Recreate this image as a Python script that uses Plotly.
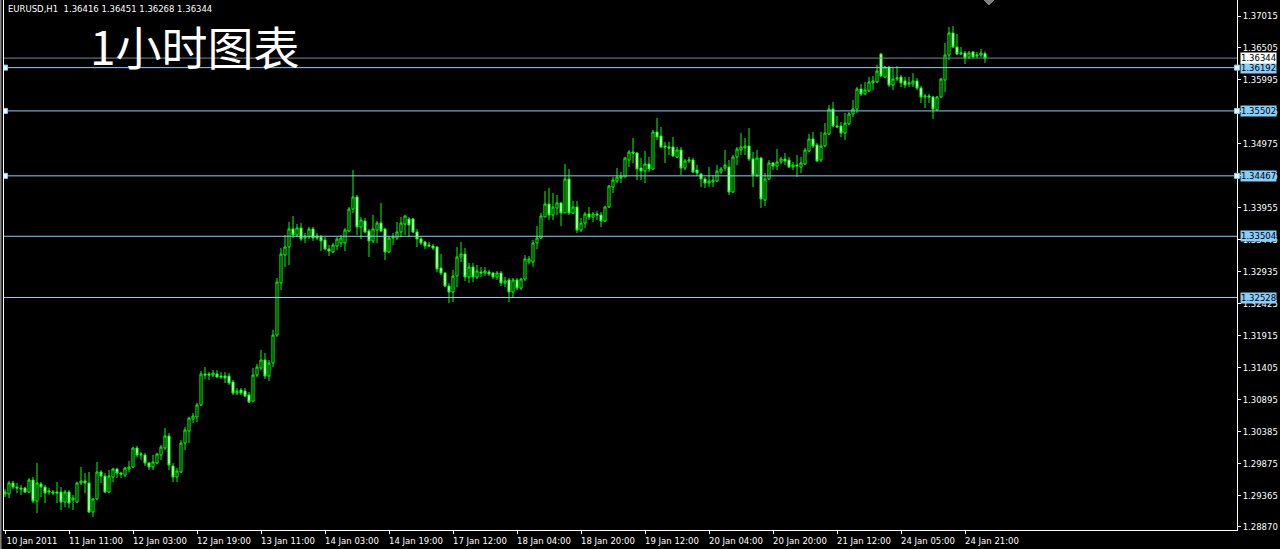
import plotly.graph_objects as go

symbol = "EURUSD,H1"
title_text = "1小时图表"

# x-axis labels, one every 16 hourly bars
time_labels = ["10 Jan 2011", "11 Jan 11:00", "12 Jan 03:00", "12 Jan 19:00", "13 Jan 11:00",
               "14 Jan 03:00", "14 Jan 19:00", "17 Jan 12:00", "18 Jan 04:00", "18 Jan 20:00",
               "19 Jan 12:00", "20 Jan 04:00", "20 Jan 20:00", "21 Jan 12:00", "24 Jan 05:00",
               "24 Jan 21:00"]
label_step = 16

price_ticks = [1.37015, 1.36505, 1.35995, 1.35485, 1.34975, 1.34465, 1.33955, 1.33445,
               1.32935, 1.32425, 1.31915, 1.31405, 1.30895, 1.30385, 1.29875, 1.29365, 1.28870]
level_lines = [1.36192, 1.35502, 1.34467, 1.33504, 1.32528]
selected_levels = [1.36192, 1.35502, 1.34467]
bid_price = 1.36344
price_range = [1.28822, 1.37270]

opens = [
    1.29396, 1.29396, 1.29571, 1.29507, 1.29491, 1.29491, 1.29427, 1.29619, 1.29284, 1.29555,
    1.29507, 1.29427, 1.29427, 1.29427, 1.29427, 1.29268, 1.29427, 1.29300, 1.29268, 1.29571,
    1.29603, 1.29571, 1.29109, 1.29316, 1.29746, 1.29682, 1.29427, 1.29666, 1.29794, 1.29730,
    1.29698, 1.29794, 1.29826, 1.30129, 1.30017, 1.30017, 1.29890, 1.29826, 1.29890, 1.30017,
    1.30129, 1.30320, 1.29842, 1.29666, 1.29746, 1.30208, 1.30400, 1.30591, 1.30623, 1.30814,
    1.31308, 1.31308, 1.31292, 1.31308, 1.31276, 1.31276, 1.31276, 1.31181, 1.31005, 1.31053,
    1.31037, 1.30974, 1.30878, 1.31292, 1.31404, 1.31532, 1.31276, 1.31484, 1.31930, 1.32759,
    1.33205, 1.33333, 1.33620, 1.33524, 1.33636, 1.33476, 1.33492, 1.33620, 1.33508, 1.33492,
    1.33444, 1.33301, 1.33253, 1.33349, 1.33397, 1.33397, 1.33588, 1.33938, 1.34130, 1.33652,
    1.33747, 1.33588, 1.33429, 1.33604, 1.33715, 1.33620, 1.33253, 1.33476, 1.33476, 1.33572,
    1.33699, 1.33779, 1.33779, 1.33572, 1.33460, 1.33413, 1.33365, 1.33349, 1.33333, 1.32998,
    1.32918, 1.32711, 1.32615, 1.32870, 1.33173, 1.33221, 1.32855, 1.33014, 1.32855, 1.32934,
    1.32918, 1.32934, 1.32918, 1.32855, 1.32918, 1.32759, 1.32807, 1.32615, 1.32807, 1.32679,
    1.32823, 1.33094, 1.33094, 1.33397, 1.33476, 1.33811, 1.34018, 1.33843, 1.33954, 1.34034,
    1.33875, 1.34416, 1.33875, 1.33970, 1.33604, 1.33715, 1.33859, 1.33811, 1.33859, 1.33843,
    1.33747, 1.33970, 1.34289, 1.34385, 1.34432, 1.34448, 1.34720, 1.34847, 1.34831, 1.34592,
    1.34544, 1.34656, 1.34576, 1.35166, 1.35102, 1.34943, 1.34927, 1.34927, 1.34767, 1.34879,
    1.34592, 1.34704, 1.34720, 1.34560, 1.34496, 1.34416, 1.34353, 1.34369, 1.34385, 1.34528,
    1.34592, 1.34608, 1.34209, 1.34767, 1.34879, 1.34911, 1.34943, 1.34736, 1.34480, 1.34751,
    1.34082, 1.34416, 1.34672, 1.34624, 1.34688, 1.34736, 1.34720, 1.34608, 1.34640, 1.34608,
    1.34656, 1.34863, 1.35054, 1.34959, 1.34720, 1.34943, 1.35134, 1.35532, 1.35262, 1.35262,
    1.35150, 1.35293, 1.35453, 1.35532, 1.35851, 1.35772, 1.35820, 1.35947, 1.35963, 1.36409,
    1.36043, 1.36202, 1.35915, 1.36011, 1.36043, 1.35979, 1.35931, 1.35931, 1.35979, 1.35867,
    1.35724, 1.35740, 1.35724, 1.35517, 1.35724, 1.35995, 1.36393, 1.36744, 1.36521, 1.36409,
    1.36425, 1.36361, 1.36441, 1.36377, 1.36393, 1.36416,
]
highs = [
    1.29475, 1.29603, 1.29603, 1.29571, 1.29539, 1.29507, 1.29650, 1.29666, 1.29890, 1.29587,
    1.29539, 1.29491, 1.29459, 1.29587, 1.29507, 1.29459, 1.29459, 1.29380, 1.29587, 1.29826,
    1.29730, 1.29746, 1.29332, 1.29906, 1.29778, 1.29730, 1.29778, 1.29810, 1.29810, 1.29746,
    1.29826, 1.29922, 1.30145, 1.30161, 1.30065, 1.30049, 1.29906, 1.30017, 1.30049, 1.30177,
    1.30447, 1.30368, 1.29890, 1.29810, 1.30256, 1.30463, 1.30623, 1.30686, 1.30846, 1.31356,
    1.31420, 1.31340, 1.31372, 1.31372, 1.31340, 1.31340, 1.31324, 1.31213, 1.31085, 1.31085,
    1.31085, 1.31021, 1.31404, 1.31468, 1.31691, 1.31643, 1.31532, 1.32010, 1.32839, 1.33317,
    1.33524, 1.33731, 1.33827, 1.33699, 1.33715, 1.33556, 1.33652, 1.33652, 1.33556, 1.33524,
    1.33492, 1.33365, 1.33397, 1.33492, 1.33524, 1.33636, 1.33970, 1.34560, 1.34162, 1.33811,
    1.33795, 1.33620, 1.33843, 1.33747, 1.34034, 1.33636, 1.33508, 1.33556, 1.33731, 1.33811,
    1.33843, 1.33811, 1.33795, 1.33620, 1.33492, 1.33429, 1.33413, 1.33381, 1.33349, 1.33221,
    1.32934, 1.32759, 1.32966, 1.33333, 1.33413, 1.33317, 1.33078, 1.33078, 1.33046, 1.33014,
    1.33014, 1.32966, 1.32934, 1.32950, 1.32950, 1.32855, 1.32839, 1.32839, 1.32839, 1.32839,
    1.33205, 1.33189, 1.33444, 1.33668, 1.33875, 1.34225, 1.34273, 1.34194, 1.34162, 1.34050,
    1.34656, 1.34576, 1.34066, 1.34066, 1.33795, 1.33891, 1.33970, 1.33891, 1.33907, 1.33891,
    1.33986, 1.34321, 1.34448, 1.34592, 1.34528, 1.34767, 1.34879, 1.35070, 1.34847, 1.34751,
    1.34863, 1.34767, 1.35198, 1.35389, 1.35246, 1.35007, 1.35007, 1.35086, 1.34927, 1.34927,
    1.34736, 1.34767, 1.34751, 1.34640, 1.34512, 1.34448, 1.34608, 1.34480, 1.34640, 1.34608,
    1.34879, 1.34720, 1.34799, 1.34927, 1.35150, 1.35070, 1.35230, 1.34847, 1.34879, 1.34767,
    1.34512, 1.34720, 1.34688, 1.34895, 1.34767, 1.34831, 1.34767, 1.34688, 1.34799, 1.34767,
    1.34911, 1.35134, 1.35166, 1.34991, 1.35166, 1.35309, 1.35596, 1.35644, 1.35421, 1.35325,
    1.35469, 1.35485, 1.35676, 1.35883, 1.35931, 1.35963, 1.36043, 1.36059, 1.36234, 1.36425,
    1.36218, 1.36218, 1.36202, 1.36218, 1.36075, 1.36043, 1.36043, 1.36106, 1.36027, 1.35899,
    1.35772, 1.35772, 1.35740, 1.35740, 1.36027, 1.36585, 1.36840, 1.36856, 1.36728, 1.36521,
    1.36457, 1.36457, 1.36457, 1.36441, 1.36489, 1.36451,
]
lows = [
    1.29348, 1.29332, 1.29475, 1.29411, 1.29380, 1.29411, 1.29411, 1.29252, 1.29093, 1.29348,
    1.29252, 1.29380, 1.29380, 1.29252, 1.29141, 1.29189, 1.29173, 1.29141, 1.29252, 1.29539,
    1.29411, 1.29093, 1.29029, 1.29300, 1.29571, 1.29411, 1.29411, 1.29587, 1.29650, 1.29650,
    1.29666, 1.29746, 1.29810, 1.29985, 1.29938, 1.29842, 1.29778, 1.29778, 1.29874, 1.29938,
    1.30097, 1.29778, 1.29587, 1.29587, 1.29730, 1.30097, 1.30208, 1.30527, 1.30543, 1.30798,
    1.31229, 1.31213, 1.31260, 1.31245, 1.31229, 1.31165, 1.31133, 1.30974, 1.30974, 1.30974,
    1.30942, 1.30846, 1.30862, 1.31260, 1.31372, 1.31229, 1.31197, 1.31420, 1.31898, 1.32647,
    1.33014, 1.33046, 1.33476, 1.33492, 1.33429, 1.33397, 1.33460, 1.33429, 1.33444, 1.33269,
    1.33285, 1.33189, 1.33237, 1.33285, 1.33333, 1.33269, 1.33572, 1.33875, 1.33524, 1.33460,
    1.33556, 1.33173, 1.33397, 1.33397, 1.33572, 1.33126, 1.33237, 1.33365, 1.33444, 1.33492,
    1.33524, 1.33492, 1.33556, 1.33333, 1.33365, 1.33301, 1.33333, 1.33285, 1.32934, 1.32886,
    1.32695, 1.32440, 1.32456, 1.32695, 1.33094, 1.32791, 1.32759, 1.32775, 1.32823, 1.32855,
    1.32870, 1.32870, 1.32823, 1.32807, 1.32711, 1.32695, 1.32456, 1.32536, 1.32647, 1.32647,
    1.32791, 1.33062, 1.33014, 1.33301, 1.33460, 1.33811, 1.33763, 1.33763, 1.33843, 1.33668,
    1.33875, 1.33843, 1.33859, 1.33556, 1.33572, 1.33636, 1.33763, 1.33731, 1.33763, 1.33652,
    1.33731, 1.33954, 1.34194, 1.34353, 1.34353, 1.34448, 1.34608, 1.34672, 1.34400, 1.34400,
    1.34353, 1.34528, 1.34560, 1.35038, 1.34911, 1.34672, 1.34799, 1.34767, 1.34751, 1.34480,
    1.34560, 1.34672, 1.34512, 1.34464, 1.34289, 1.34273, 1.34289, 1.34289, 1.34369, 1.34496,
    1.34544, 1.34162, 1.34194, 1.34640, 1.34799, 1.34799, 1.34704, 1.34289, 1.34448, 1.33954,
    1.33986, 1.34400, 1.34560, 1.34560, 1.34656, 1.34640, 1.34592, 1.34560, 1.34448, 1.34512,
    1.34640, 1.34847, 1.34911, 1.34688, 1.34688, 1.34927, 1.35118, 1.35246, 1.35230, 1.35086,
    1.35038, 1.35277, 1.35405, 1.35469, 1.35740, 1.35756, 1.35804, 1.35836, 1.35947, 1.36043,
    1.36027, 1.35883, 1.35836, 1.35979, 1.35883, 1.35867, 1.35883, 1.35883, 1.35836, 1.35628,
    1.35548, 1.35628, 1.35373, 1.35501, 1.35708, 1.35804, 1.36314, 1.36505, 1.36393, 1.36393,
    1.36250, 1.36330, 1.36345, 1.36345, 1.36361, 1.36268,
]
closes = [
    1.29427, 1.29571, 1.29507, 1.29491, 1.29475, 1.29427, 1.29619, 1.29284, 1.29571, 1.29507,
    1.29411, 1.29443, 1.29411, 1.29411, 1.29268, 1.29427, 1.29252, 1.29332, 1.29571, 1.29603,
    1.29571, 1.29109, 1.29316, 1.29746, 1.29682, 1.29427, 1.29682, 1.29794, 1.29730, 1.29714,
    1.29810, 1.29826, 1.30129, 1.30017, 1.30033, 1.29890, 1.29826, 1.29906, 1.30033, 1.30145,
    1.30320, 1.29858, 1.29666, 1.29762, 1.30208, 1.30416, 1.30607, 1.30639, 1.30814, 1.31308,
    1.31292, 1.31292, 1.31324, 1.31260, 1.31260, 1.31245, 1.31165, 1.31005, 1.31037, 1.31005,
    1.30958, 1.30862, 1.31292, 1.31420, 1.31532, 1.31276, 1.31484, 1.31930, 1.32775, 1.33221,
    1.33333, 1.33620, 1.33524, 1.33636, 1.33460, 1.33508, 1.33620, 1.33476, 1.33476, 1.33429,
    1.33301, 1.33269, 1.33365, 1.33460, 1.33476, 1.33604, 1.33938, 1.34130, 1.33652, 1.33763,
    1.33572, 1.33429, 1.33620, 1.33715, 1.33588, 1.33253, 1.33476, 1.33492, 1.33572, 1.33715,
    1.33827, 1.33683, 1.33572, 1.33460, 1.33397, 1.33349, 1.33349, 1.33317, 1.32982, 1.32918,
    1.32711, 1.32615, 1.32870, 1.33173, 1.33221, 1.32855, 1.33014, 1.32855, 1.32950, 1.32918,
    1.32950, 1.32902, 1.32855, 1.32918, 1.32759, 1.32791, 1.32615, 1.32807, 1.32679, 1.32823,
    1.33142, 1.33142, 1.33397, 1.33476, 1.33827, 1.34018, 1.33843, 1.33970, 1.34034, 1.33875,
    1.34416, 1.33875, 1.33970, 1.33604, 1.33715, 1.33859, 1.33811, 1.33859, 1.33843, 1.33747,
    1.33970, 1.34305, 1.34400, 1.34448, 1.34464, 1.34751, 1.34847, 1.34831, 1.34576, 1.34544,
    1.34656, 1.34576, 1.35166, 1.35086, 1.34927, 1.34927, 1.34911, 1.34783, 1.34879, 1.34592,
    1.34704, 1.34720, 1.34528, 1.34512, 1.34416, 1.34353, 1.34385, 1.34400, 1.34544, 1.34576,
    1.34640, 1.34209, 1.34767, 1.34895, 1.34927, 1.34943, 1.34736, 1.34480, 1.34751, 1.34098,
    1.34416, 1.34672, 1.34624, 1.34688, 1.34736, 1.34704, 1.34608, 1.34640, 1.34624, 1.34672,
    1.34879, 1.35054, 1.34943, 1.34704, 1.34943, 1.35150, 1.35532, 1.35262, 1.35246, 1.35150,
    1.35309, 1.35453, 1.35532, 1.35851, 1.35772, 1.35836, 1.35963, 1.35979, 1.36138, 1.36059,
    1.36202, 1.35915, 1.36011, 1.36027, 1.35947, 1.35915, 1.35947, 1.35979, 1.35867, 1.35724,
    1.35740, 1.35724, 1.35532, 1.35724, 1.36011, 1.36393, 1.36744, 1.36521, 1.36409, 1.36425,
    1.36345, 1.36425, 1.36361, 1.36393, 1.36425, 1.36344,
]

bars = list(range(len(closes)))
tick_bars = [k * label_step for k in range(len(time_labels))]
shift_bar = len(closes)  # chart-shift marker position

GREEN = "#00FF00"
SKY = "#87CEFA"
BIDC = "#778899"
FONT = "DejaVu Sans"
FS = 8.5

fig = go.Figure()
fig.add_trace(go.Candlestick(
    x=bars, open=opens, high=highs, low=lows, close=closes,
    increasing=dict(line=dict(color=GREEN, width=1), fillcolor="#000000"),
    decreasing=dict(line=dict(color=GREEN, width=1), fillcolor="#FFFFFF"),
    whiskerwidth=0, showlegend=False, hoverinfo="skip",
))

shapes = []
annotations = []
for lv in level_lines:
    shapes.append(dict(type="line", xref="paper", x0=0, x1=1, yref="y", y0=lv, y1=lv,
                       line=dict(color=SKY, width=1), layer="above"))
    annotations.append(dict(xref="paper", x=1, xanchor="left", xshift=3, yref="y", y=lv,
                            yanchor="middle", text=f"{lv:.5f}", showarrow=False,
                            bgcolor=SKY, borderpad=0, font=dict(family=FONT, size=FS, color="#000000")))
shapes.append(dict(type="line", xref="paper", x0=0, x1=1, yref="y", y0=bid_price, y1=bid_price,
                   line=dict(color=BIDC, width=1), layer="above"))
annotations.append(dict(xref="paper", x=1, xanchor="left", xshift=3, yref="y", y=bid_price,
                        yanchor="middle", text=f"{bid_price:.5f}", showarrow=False,
                        bgcolor="#FFFFFF", borderpad=0, font=dict(family=FONT, size=FS, color="#000000")))

for lv in selected_levels:
    for xr, xa in (("x", bars[0]), ("paper", 1)):
        shapes.append(dict(type="rect", xref=xr, xsizemode="pixel", xanchor=xa, x0=-2.5, x1=2.5,
                           yref="y", ysizemode="pixel", yanchor=lv, y0=-2.5, y1=2.5,
                           fillcolor="#E8F4FF", line=dict(color=SKY, width=1), layer="above"))

# chart shift marker
shapes.append(dict(type="path", xref="x", xsizemode="pixel", xanchor=shift_bar,
                   yref="paper", ysizemode="pixel", yanchor=1,
                   path="M -5,0 L 5,0 L 0,-5 Z", fillcolor="#808080",
                   line=dict(color="#808080", width=1), layer="above"))

# window border
shapes.append(dict(type="line", xref="paper", x0=-0.0028, x1=-0.0028, yref="paper", y0=-0.05, y1=1.01,
                   line=dict(color="#808080", width=2)))

info = f"{symbol}\u00a0\u00a0{opens[-1]:.5f} {highs[-1]:.5f} {lows[-1]:.5f} {closes[-1]:.5f}"
annotations.append(dict(xref="paper", x=0, xanchor="left", xshift=2, yref="paper", y=1,
                        yanchor="top", yshift=-2, text=info, showarrow=False,
                        font=dict(family=FONT, size=FS, color="#FFFFFF")))
annotations.append(dict(xref="paper", x=0, xanchor="left", xshift=84, yref="paper", y=1,
                        yanchor="top", yshift=-10, text=title_text, showarrow=False,
                        font=dict(family="Noto Sans CJK SC", size=46, color="#FFFFFF")))

fig.update_layout(
    width=1280, height=549,
    margin=dict(l=4, r=43, t=0, b=19),
    paper_bgcolor="#000000", plot_bgcolor="#000000",
    shapes=shapes, annotations=annotations,
    font=dict(family=FONT, size=FS, color="#FFFFFF"),
    xaxis=dict(range=[-0.25, 308], tickmode="array", tickvals=tick_bars, ticktext=time_labels,
               ticks="outside", ticklen=3, tickcolor="#FFFFFF", showgrid=False, zeroline=False,
               showline=True, linecolor="#FFFFFF", linewidth=1, ticklabelshift=27,
               rangeslider=dict(visible=False), tickfont=dict(family=FONT, size=FS, color="#FFFFFF")),
    yaxis=dict(range=price_range, side="right", tickmode="array", tickvals=price_ticks,
               ticktext=[f"{p:.5f}" for p in price_ticks], ticks="outside", ticklen=3,
               tickcolor="#FFFFFF", showgrid=False, zeroline=False, showline=True, mirror=True,
               linecolor="#FFFFFF", linewidth=1, tickfont=dict(family=FONT, size=FS, color="#FFFFFF")),
    boxgap=0.25,
)

fig.write_html("out.html", config={"displayModeBar": False},
               post_script="document.body.style.margin='0px';document.body.style.overflow='hidden';")
